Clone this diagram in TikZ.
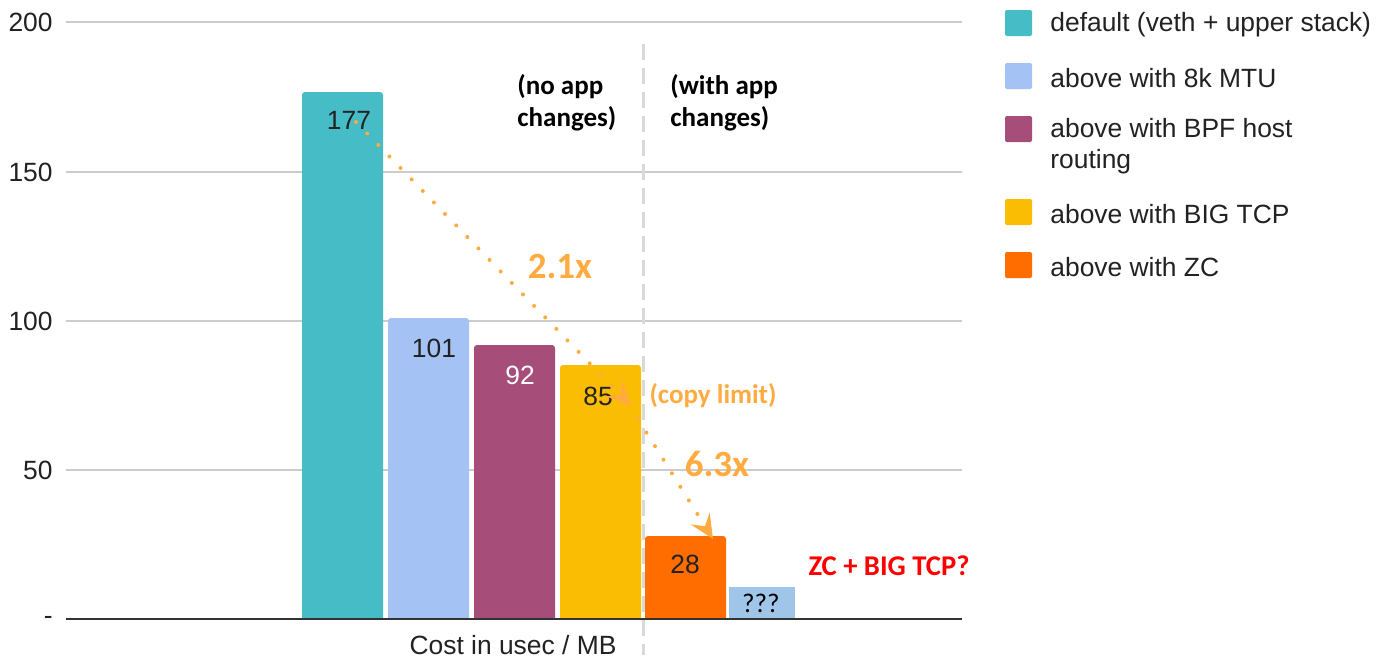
\documentclass[tikz,border=0pt]{standalone}
\usepackage{fontspec}
\setmainfont{Liberation Sans}
\newfontfamily\calfont{Carlito}
\usetikzlibrary{arrows.meta}
\definecolor{cteal}{HTML}{46BDC6}
\definecolor{cblue}{HTML}{A4C2F4}
\definecolor{cblueq}{HTML}{9FC5E8}
\definecolor{cpurple}{HTML}{A64D79}
\definecolor{cyellow}{HTML}{FBBC04}
\definecolor{corange}{HTML}{FF6D01}
\definecolor{carrow}{HTML}{FFAB40}
\definecolor{cgrid}{HTML}{CCCCCC}
\definecolor{cbase}{HTML}{333333}
\definecolor{cdash}{HTML}{D9D9D9}
\definecolor{cred}{HTML}{FF0000}
\definecolor{ctext}{HTML}{222222}
\tikzset{
  arial/.style={font=\fontsize{13.2}{15.5}\selectfont, text=ctext, inner sep=0pt},
  calb/.style={font=\calfont\bfseries\fontsize{13.5}{16}\selectfont, inner sep=0pt},
  calbig/.style={font=\calfont\bfseries\fontsize{18.5}{20}\selectfont, inner sep=0pt, text=carrow},
  grid/.style={draw=cgrid, line width=1pt},
  legsq/.style={rounded corners=1pt},
  dotarrow/.style={draw=carrow, line width=2pt, line cap=round, dash pattern=on 0pt off 8pt,
     -{Stealth[length=12pt,width=11pt,inset=4.5pt]}},
}
\begin{document}
\begin{tikzpicture}[x=0.5pt,y=-0.5pt]
\useasboundingbox[fill=white] (0,0) rectangle (1377,659);
% gridlines
\foreach \yy in {22,172,321,470} \draw[grid] (66,\yy) -- (962,\yy);
% y labels
\node[arial, anchor=east] (y200) at (53,22) {200};
\node[arial, anchor=east] (y150) at (53,172) {150};
\node[arial, anchor=east] (y100) at (53,321) {100};
\node[arial, anchor=east] (y50) at (53,470) {50};
\node[arial, anchor=east] (y0) at (53,620) {-};
% bars
\fill[cteal,   rounded corners=1.5pt] (302,619) -- (302,92)  -- (383,92)  -- (383,619);
\fill[cblue,   rounded corners=1.5pt] (388,619) -- (388,318) -- (469,318) -- (469,619);
\fill[cpurple, rounded corners=1.5pt] (474,619) -- (474,345) -- (555,345) -- (555,619);
\fill[cyellow, rounded corners=1.5pt] (560,619) -- (560,365) -- (641,365) -- (641,619);
\fill[corange, rounded corners=1.5pt] (645,619) -- (645,536) -- (726,536) -- (726,619);
\fill[cblueq] (729,619) -- (729,587) -- (795,587) -- (795,619);
% baseline
\draw[cbase, line width=1pt] (66,619) -- (962,619);
% dashed separator
\draw[cdash, line width=1.5pt, dash pattern=on 8pt off 4pt] (643,44) -- (643,655);
% bar values
\node[arial] (v177) at (349,120) {177};
\node[arial] (v101) at (434,348) {101};
\node[arial, text=white] (v92) at (520,375) {92};
\node[arial] (v85) at (598,396) {85};
\node[arial] (v28) at (685,564) {28};
\node[calb, font=\calfont\fontsize{13.5}{16}\selectfont] (vq) at (761,603) {???};
% group labels
\node[calb, align=left, anchor=north west] (noapp) at (517,74) {(no app\\changes)};
\node[calb, align=left, anchor=north west] (withapp) at (670,74) {(with app\\changes)};
% arrows
\coordinate (a1s) at (356,122);
\coordinate (a1e) at (631,406);
\coordinate (a2s) at (638,419);
\coordinate (a2e) at (713,539);
\draw[dotarrow] (a1s) -- (a1e);
\draw[dotarrow] (a2s) -- (a2e);
\node[calbig] (f21) at (560,266) {2.1x};
\node[calb, text=carrow] (copy) at (713,396) {(copy limit)};
\node[calbig] (f63) at (717,464) {6.3x};
\node[calb, text=cred, font=\calfont\bfseries\fontsize{14.3}{16}\selectfont] (zc) at (889,566) {ZC + BIG TCP?};
% axis title
\node[arial] (xt) at (513,645) {Cost in usec / MB};
% legend
\fill[cteal,   legsq] (1005,10) rectangle (1032,36);
\fill[cblue,   legsq] (1005,63) rectangle (1032,89);
\fill[cpurple, legsq] (1005,116) rectangle (1032,142);
\fill[cyellow, legsq] (1005,199) rectangle (1032,225);
\fill[corange, legsq] (1005,252) rectangle (1032,278);
\node[arial, anchor=west] (l1) at (1050,25) {default (veth + upper stack)};
\node[arial, anchor=west] (l2) at (1050,78) {above with 8k MTU};
\node[arial, anchor=west, align=left] (l3) at (1050,146.5) {above with BPF host\\routing};
\node[arial, anchor=west] (l4) at (1050,214) {above with BIG TCP};
\node[arial, anchor=west] (l5) at (1050,267) {above with ZC};
\end{tikzpicture}
\end{document}
